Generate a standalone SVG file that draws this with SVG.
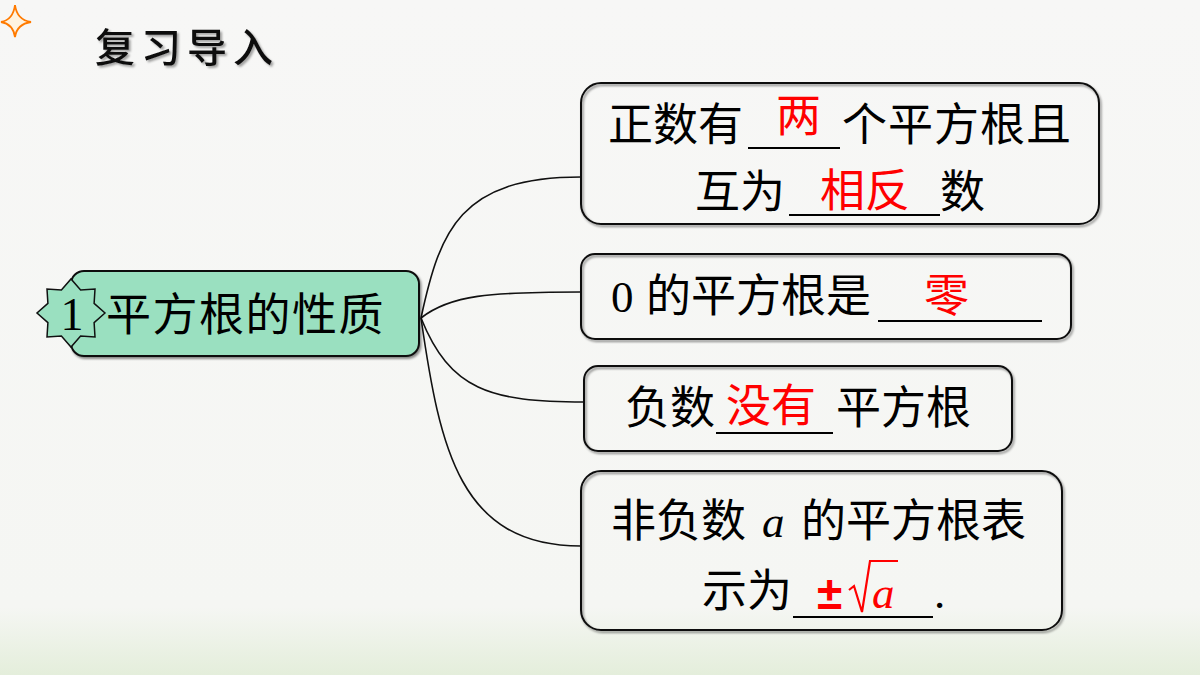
<svg xmlns="http://www.w3.org/2000/svg" width="1200" height="675" viewBox="0 0 1200 675">
<defs>
<linearGradient id="bg" x1="0" y1="0" x2="0" y2="1">
<stop offset="0" stop-color="#f7f7f6"/>
<stop offset="0.9" stop-color="#f5f6f3"/>
<stop offset="1" stop-color="#e4eedb"/>
</linearGradient>
<filter id="sh" x="-5%" y="-5%" width="110%" height="115%">
<feDropShadow dx="1.5" dy="2" stdDeviation="1" flood-color="#000" flood-opacity="0.45"/>
</filter>
<filter id="tsh" x="-10%" y="-10%" width="130%" height="140%">
<feDropShadow dx="2" dy="2" stdDeviation="1.2" flood-color="#000" flood-opacity="0.35"/>
</filter>
</defs>
<style>
.box{fill:none;stroke:#111;stroke-width:2}
.t{font-family:"Noto Sans CJK SC","Liberation Sans",sans-serif;font-size:45px;fill:#000}
.r{font-family:"Noto Sans CJK SC","Liberation Sans",sans-serif;font-size:45px;fill:#ff0000}
.ser{font-family:"Liberation Serif",serif}
.ul{stroke:#000;stroke-width:1.8}
.con{fill:none;stroke:#111;stroke-width:1.6}
</style>
<rect width="1200" height="675" fill="url(#bg)"/>
<path d="M15,5 Q17,20 31,22 Q17,24 15,37 Q13,24 1,22 Q13,20 15,5Z" fill="#fff3e0" stroke="#ff7a00" stroke-width="1.8"/>
<text x="95" y="62" font-family="Noto Sans CJK SC,sans-serif" font-size="40" font-weight="500" letter-spacing="6" fill="#111" filter="url(#tsh)">复习导入</text>

<g id="connectors">
<path class="con" d="M421,318 C440,230 460,177 581,177"/>
<path class="con" d="M421,318 C450,295 490,292 580,292"/>
<path class="con" d="M421,318 C450,390 490,402 584,402"/>
<path class="con" d="M421,318 C440,450 460,546 581,546"/>
</g>

<g id="main">
<rect x="71" y="271" width="348" height="85" rx="13" fill="#9ae0c0" stroke="#111" stroke-width="2" filter="url(#sh)"/>
<polygon points="105,313 94.1,322.6 95,337 80.6,336.1 71,347 61.4,336.1 47,337 47.9,322.6 37,313 47.9,303.4 47,289 61.4,289.9 71,279 80.6,289.9 95,289 94.1,303.4" fill="#9ae0c0" stroke="#111" stroke-width="1.5" stroke-linejoin="miter"/>
<text x="72" y="330" class="ser" font-size="46" text-anchor="middle" fill="#000">1</text>
<text x="106" y="331" class="t" font-size="48" letter-spacing="1.5">平方根的性质</text>
</g>

<g id="n1">
<rect x="581" y="83" width="518" height="141" rx="20" class="box" filter="url(#sh)"/>
<text x="608" y="141" class="t">正数有</text>
<line x1="748" y1="148" x2="840" y2="148" class="ul"/>
<text x="776" y="132" class="r" font-size="42">两</text>
<text x="842" y="141" class="t" letter-spacing="1">个平方根且</text>
<text x="695" y="208" class="t">互为</text>
<line x1="789" y1="215" x2="940" y2="215" class="ul"/>
<text x="820" y="207" class="r">相反</text>
<text x="940" y="208" class="t">数</text>
</g>

<g id="n2">
<rect x="581" y="254" width="490" height="85" rx="14" class="box" filter="url(#sh)"/>
<text x="611" y="312" class="ser" font-size="45">0</text>
<text x="646" y="312" class="t">的平方根是</text>
<line x1="878" y1="321" x2="1042" y2="321" class="ul"/>
<text x="924" y="312" class="r">零</text>
</g>

<g id="n3">
<rect x="584" y="366" width="428" height="85" rx="14" class="box" filter="url(#sh)"/>
<text x="625" y="424" class="t">负数</text>
<line x1="716" y1="433" x2="833" y2="433" class="ul"/>
<text x="726" y="422" class="r">没有</text>
<text x="836" y="424" class="t">平方根</text>
</g>

<g id="n4">
<rect x="581" y="471" width="481" height="159" rx="20" class="box" filter="url(#sh)"/>
<text x="611" y="537" class="t">非负数</text>
<text x="762" y="537" class="ser" font-size="45" font-style="italic">a</text>
<text x="801" y="537" class="t">的平方根表</text>
<text x="702" y="607" class="t">示为</text>
<line x1="793" y1="617" x2="933" y2="617" class="ul"/>
<text x="817" y="609" font-family="Liberation Sans,sans-serif" font-size="46" font-weight="bold" fill="#ff0000">±</text>
<path d="M849,590 L854,586 L862,612 L870,561 L898,561" fill="none" stroke="#ff0000" stroke-width="2.2"/>
<text x="872" y="608" class="ser" font-size="45" font-style="italic" fill="#ff0000">a</text>
<text x="934" y="608" class="ser" font-size="45">.</text>
</g>
</svg>
